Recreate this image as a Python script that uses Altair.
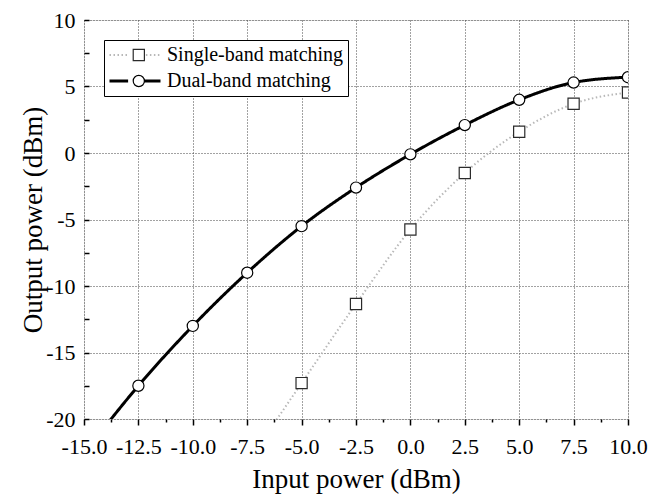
import altair as alt
import pandas as pd

# ---- data ----
series_names = ["Single-band matching", "Dual-band matching"]
marker_keys = ["single", "dual"]

single_x = [-7.5, -5.0, -2.5, 0.0, 2.5, 5.0, 7.5, 10.0]
single_y = [-23.3, -17.3, -11.35, -5.75, -1.5, 1.6, 3.7, 4.55]

dual_x = [-15.0, -12.5, -10.0, -7.5, -5.0, -2.5, 0.0, 2.5, 5.0, 7.5, 10.0]
dual_y = [-22.6, -17.5, -13.0, -9.0, -5.5, -2.6, -0.1, 2.1, 4.0, 5.3, 5.7]

x_tick_values = [-15.0, -13.75, -12.5, -11.25, -10.0, -8.75, -7.5, -6.25, -5.0,
                 -3.75, -2.5, -1.25, 0.0, 1.25, 2.5, 3.75, 5.0, 6.25, 7.5, 8.75, 10.0]
y_tick_values = [-20, -17.5, -15, -12.5, -10, -7.5, -5, -2.5, 0, 2.5, 5, 7.5, 10]

rows = []
for xv, yv in zip(single_x, single_y):
    rows.append({"x": xv, "y": yv, "series": series_names[0], "marker": marker_keys[0]})
for xv, yv in zip(dual_x, dual_y):
    rows.append({"x": xv, "y": yv, "series": series_names[1], "marker": marker_keys[1]})
df = pd.DataFrame(rows)

FONT = "Liberation Serif"

x_minor = "abs(round(datum.value / 1.25)) % 2 == 1"
y_minor = "abs(round(datum.value / 2.5)) % 2 == 1"

x_axis = alt.Axis(
    values=x_tick_values,
    labelExpr=f"{x_minor} ? '' : (datum.value < 0 ? '-' : '') + format(abs(datum.value), '.1f')",
    tickSize={"condition": {"test": x_minor, "value": 3}, "value": 6},
    gridOpacity={"condition": {"test": x_minor, "value": 0}, "value": 1},
    grid=True, gridColor="#444444", gridDash=[1, 2], gridWidth=1,
    domain=False, ticks=True, tickColor="black", tickWidth=1.5,
    labelFont=FONT, labelFontSize=22, labelColor="black", labelPadding=11,
    labelFlush=False, labelOverlap=False,
    titleFont=FONT, titleFontSize=27, titleFontWeight="normal", titleColor="black",
    titlePadding=9,
)

y_axis = alt.Axis(
    values=y_tick_values,
    labelExpr=f"{y_minor} ? '' : (datum.value < 0 ? '-' : '') + format(abs(datum.value), 'd')",
    tickSize=5, offset=-5,
    gridOpacity={"condition": {"test": y_minor, "value": 0}, "value": 1},
    grid=True, gridColor="#444444", gridDash=[1, 2], gridWidth=1,
    domain=False, ticks=True, tickColor="black", tickWidth=1.5,
    labelFont=FONT, labelFontSize=22, labelColor="black", labelPadding=9,
    labelFlush=False, labelOverlap=False,
    titleFont=FONT, titleFontSize=27, titleFontWeight="normal", titleColor="black",
    titlePadding=-2,
)

x_enc = alt.X("x:Q", scale=alt.Scale(domain=[-15, 10], nice=False, zero=False),
              axis=x_axis, title="Input power (dBm)")
y_enc = alt.Y("y:Q", scale=alt.Scale(domain=[-20, 10], nice=False, zero=False),
              axis=y_axis, title="Output power (dBm)")

LINE_SYM = 51          # legend line length (px)
PT_SYM = 125           # marker area

# line legend: white framed box, line sample with a gap where the marker sits
line_legend = alt.Legend(
    orient="none", legendX=20, legendY=20, title=None,
    symbolType="M-1,0H-0.27M0.27,0H1", symbolSize=LINE_SYM ** 2,
    labelFont=FONT, labelFontSize=20, labelColor="black", labelOffset=5, labelLimit=400,
    clipHeight=22, rowPadding=4, padding=4,
    strokeColor="black", fillColor="white",
)

# marker legend drawn on top, symbols only
pt_w = PT_SYM ** 0.5 + 1.2
line_w = LINE_SYM + 3
point_legend = alt.Legend(
    orient="none", legendX=20, legendY=20, title=None,
    labelExpr="''", labelFontSize=20,
    symbolOffset=(line_w - pt_w) / 2,
    symbolSize=PT_SYM, symbolStrokeWidth=1.2, symbolFillColor="white",
    clipHeight=22, rowPadding=4, padding=4,
)

lines = alt.Chart(df).mark_line(interpolate="monotone", clip=True).encode(
    x=x_enc,
    y=y_enc,
    color=alt.Color("series:N", scale=alt.Scale(domain=series_names, range=["#b8b8b8", "#000000"]),
                    legend=line_legend),
    strokeDash=alt.StrokeDash("series:N", scale=alt.Scale(domain=series_names, range=[[1.5, 2.5], [1, 0]]),
                              legend=line_legend),
    strokeWidth=alt.StrokeWidth("series:N", scale=alt.Scale(domain=series_names, range=[2, 3]),
                                legend=line_legend),
)

points = alt.Chart(df).mark_point(filled=True, fill="white", size=PT_SYM,
                                  strokeWidth=1.2, opacity=1, clip=True).encode(
    x=x_enc,
    y=y_enc,
    shape=alt.Shape("marker:N", scale=alt.Scale(domain=marker_keys, range=["square", "circle"]),
                    legend=point_legend),
    stroke=alt.Stroke("marker:N", scale=alt.Scale(domain=marker_keys, range=["#2a2a2a", "#000000"]),
                      legend=point_legend),
)

chart = alt.layer(lines, points).properties(
    width=544, height=399,
    autosize=alt.AutoSizeParams(type="none"),
    padding={"left": 76, "top": 12, "right": 20, "bottom": 82},
).configure_view(
    stroke="black", strokeWidth=1.5,
).configure(background="white")

chart.save("out.html", embed_options={"renderer": "svg", "actions": False})
